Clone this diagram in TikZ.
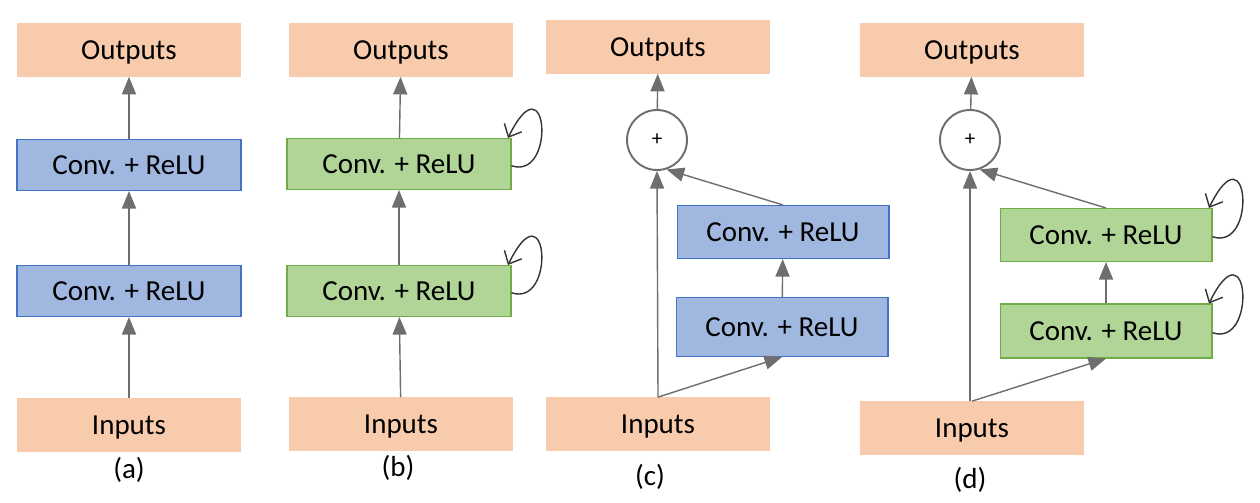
\documentclass[tikz,border=0pt]{standalone}
\usepackage{fontspec}
\setmainfont{Carlito}
\usetikzlibrary{arrows.meta}
\definecolor{inout}{HTML}{F8CBAD}
\definecolor{convblue}{HTML}{A0B7E0}
\definecolor{blueline}{HTML}{4472C4}
\definecolor{convgreen}{HTML}{B0D597}
\definecolor{greenline}{HTML}{70AD47}
\definecolor{arrowgray}{HTML}{6E6E6E}
\tikzset{
  io/.style={fill=inout,draw=inout,minimum width=4.46cm,minimum height=1.06cm,inner sep=0pt,text height=13pt,text depth=2pt,font=\fontsize{16.5}{20}\selectfont},
  convb/.style={fill=convblue,draw=blueline,line width=0.6pt,minimum width=4.48cm,minimum height=1.02cm,inner sep=0pt,font=\fontsize{16.5}{20}\selectfont},
  convg/.style={convb,fill=convgreen,draw=greenline},
  sumnode/.style={circle,draw=arrowgray,line width=1.1pt,fill=white,minimum size=1.2cm,inner sep=0pt,font=\large},
  flow/.style={draw=arrowgray,line width=0.8pt,-{Triangle[length=10pt,width=8pt]}},
  selfloop/.style={draw=black!80,line width=0.8pt,-{Straight Barb[length=6pt,width=11pt]}},
  caption/.style={font=\fontsize{16.5}{20}\selectfont}
}
\begin{document}
\begin{tikzpicture}[x=0.02cm,y=-0.02cm]
  \useasboundingbox (0,0) rectangle (1260,503);
  % (a)
  \node[io] (outa) at (129,50) {Outputs};
  \node[convb] (ca2) at (129,165) {Conv. + ReLU};
  \node[convb] (ca1) at (129,291) {Conv. + ReLU};
  \node[io] (ina) at (129,425) {Inputs};
  \node[caption] (laba) at (129,470) {(a)};
  \draw[flow] (ina) to (ca1);
  \draw[flow] (ca1) to (ca2);
  \draw[flow] (ca2) to (outa);
  % (b)
  \node[io] (outb) at (401,50) {Outputs};
  \node[convg] (cb2) at (399,164) {Conv. + ReLU};
  \node[convg] (cb1) at (399,291) {Conv. + ReLU};
  \node[io] (inb) at (401,424) {Inputs};
  \node[caption] (labb) at (398,468) {(b)};
  \draw[flow] (inb) to (cb1);
  \draw[flow] (cb1) to (cb2);
  \draw[flow] (cb2) to (outb);
  \draw[selfloop] ([yshift=-1pt]cb2.east) .. controls +(45,15) and +(40,-82) .. ([xshift=-2pt]cb2.north east);
  \draw[selfloop] ([yshift=-1pt]cb1.east) .. controls +(45,15) and +(40,-82) .. ([xshift=-2pt]cb1.north east);
  % (c)
  \node[io] (outc) at (658,47) {Outputs};
  \node[sumnode] (sumc) at (657,140) {+};
  \node[convb,minimum width=4.24cm,minimum height=1.06cm] (cc2) at (783,232) {Conv. + ReLU};
  \node[convb,minimum width=4.24cm,minimum height=1.18cm] (cc1) at (782,327) {Conv. + ReLU};
  \node[io] (inc) at (658,424) {Inputs};
  \node[caption] (labc) at (650,477) {(c)};
  \draw[flow] (inc.north) to (sumc.south);
  \draw[flow] (inc.north) to (cc1.south);
  \draw[flow] (cc1) to (cc2);
  \draw[flow] (cc2.north) to (sumc.-72);
  \draw[flow] (sumc) to (outc);
  % (d)
  \node[io] (outd) at (972,50) {Outputs};
  \node[sumnode] (sumd) at (970,140) {+};
  \node[convg,minimum width=4.24cm,minimum height=1.06cm] (cd2) at (1106,235) {Conv. + ReLU};
  \node[convg,minimum width=4.24cm,minimum height=1.08cm] (cd1) at (1106,331) {Conv. + ReLU};
  \node[io] (ind) at (972,428) {Inputs};
  \node[caption] (labd) at (970,480) {(d)};
  \draw[flow] (ind.north -| sumd.south) to (sumd.south);
  \draw[flow] (ind.north) to (cd1.south);
  \draw[flow] (cd1) to (cd2);
  \draw[flow] (cd2.north) to (sumd.-72);
  \draw[flow] (sumd) to (outd);
  \draw[selfloop] ([yshift=-1pt]cd2.east) .. controls +(45,15) and +(40,-82) .. ([xshift=-2pt]cd2.north east);
  \draw[selfloop] ([yshift=-1pt]cd1.east) .. controls +(45,15) and +(40,-82) .. ([xshift=-2pt]cd1.north east);
\end{tikzpicture}
\end{document}
